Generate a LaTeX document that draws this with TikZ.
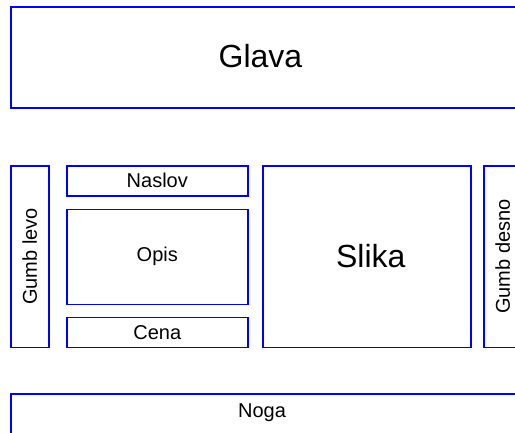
\documentclass[tikz,border=0pt]{standalone}
\usepackage{fontspec}
\setmainfont{Liberation Sans}
\tikzset{
  box/.style={draw=blue,line width=1.6pt,inner sep=0pt,anchor=north west},
  bigtxt/.style={font=\fontsize{32}{38}\selectfont},
  smalltxt/.style={font=\fontsize{20}{24}\selectfont},
}
\begin{document}
\begin{tikzpicture}[x=1pt,y=-1pt]
\useasboundingbox (0,0) rectangle (515,432);
\clip (0,0) rectangle (515,432);
% header
\node[box,line width=2.3pt,minimum width=540pt,minimum height=101pt] (glava) at (10,6) {};
\node[bigtxt] (glavaText) at (260.5,56.5) {Glava};
% middle row
\node[box,minimum width=38pt,minimum height=181.5pt] (gumbL) at (10,165) {};
\node[smalltxt,rotate=90] (gumbLText) at (gumbL.center) {Gumb levo};
\node[box,smalltxt,minimum width=181pt,minimum height=30pt] (naslov) at (66,165) {Naslov};
\node[box,smalltxt,minimum width=181pt,minimum height=95pt] (opis) at (66,208.5) {Opis};
\node[box,smalltxt,minimum width=181pt,minimum height=30pt] (cena) at (66,316.5) {Cena};
\node[box,minimum width=208pt,minimum height=181.5pt] (slika) at (262,165) {};
\node[bigtxt] (slikaText) at ([xshift=4pt]slika.center) {Slika};
\node[box,minimum width=38pt,minimum height=181.5pt] (gumbD) at (483,165) {};
\node[smalltxt,rotate=90] (gumbDText) at (gumbD.center) {Gumb desno};
% footer
\node[box,line width=2.3pt,minimum width=540pt,minimum height=60pt] (noga) at (10,393) {};
\node[smalltxt] (nogaText) at (262,412.5) {Noga};
\end{tikzpicture}
\end{document}
